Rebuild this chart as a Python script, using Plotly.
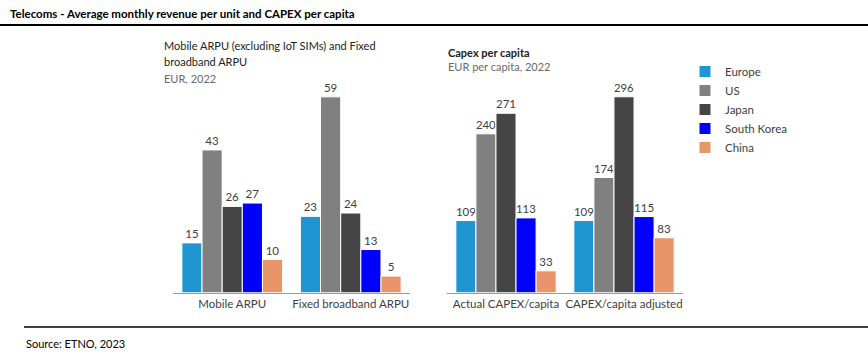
import plotly.graph_objects as go

W, H = 868, 356

series = ["Europe", "US", "Japan", "South Korea", "China"]
colors = ["#1F95D2", "#808080", "#454545", "#0000FF", "#E8956A"]

arpu_categories = ["Mobile ARPU", "Fixed broadband ARPU"]
arpu_values = {
    "Europe": [15, 23],
    "US": [43, 59],
    "Japan": [26, 24],
    "South Korea": [27, 13],
    "China": [10, 5],
}

capex_categories = ["Actual CAPEX/capita", "CAPEX/capita adjusted"]
capex_values = {
    "Europe": [109, 109],
    "US": [240, 174],
    "Japan": [271, 296],
    "South Korea": [113, 115],
    "China": [33, 83],
}

FONT = "Lato"
TXT = "#404040"

fig = go.Figure()
for s, c in zip(series, colors):
    fig.add_trace(go.Bar(
        x=arpu_categories, y=arpu_values[s], name=s, marker_color=c,
        marker_line_color="white", marker_line_width=1,
        text=arpu_values[s], textposition="outside", cliponaxis=False,
        textfont=dict(size=11.5, color=TXT, family=FONT),
        xaxis="x", yaxis="y", legendgroup=s, showlegend=False,
    ))
for s, c in zip(series, colors):
    fig.add_trace(go.Bar(
        x=capex_categories, y=capex_values[s], name=s, marker_color=c,
        marker_line_color="white", marker_line_width=1,
        text=capex_values[s], textposition="outside", cliponaxis=False,
        textfont=dict(size=11.5, color=TXT, family=FONT),
        xaxis="x2", yaxis="y2", legendgroup=s, showlegend=True,
    ))

base_y = 292.7
top_y = 90.0
ydom = [(H - base_y) / H, (H - top_y) / H]
plot_h = base_y - top_y

xax = dict(showline=True, linecolor="#9a9a9a", linewidth=1, ticks="",
           showgrid=False, zeroline=False,
           tickfont=dict(size=11.5, color=TXT, family=FONT))
yax = dict(visible=False, showgrid=False, zeroline=False)

fig.update_layout(
    width=W, height=H,
    margin=dict(l=0, r=0, t=0, b=0),
    paper_bgcolor="white", plot_bgcolor="white",
    barmode="group", bargap=0.15, bargroupgap=0,
    font=dict(family=FONT, size=11, color=TXT),
    xaxis=dict(domain=[173 / W, 410 / W], anchor="y", **xax),
    yaxis=dict(domain=ydom, range=[0, plot_h / 3.32], anchor="x", **yax),
    xaxis2=dict(domain=[447 / W, 683 / W], anchor="y2", **xax),
    yaxis2=dict(domain=ydom, range=[0, plot_h / 0.662], anchor="x2", **yax),
    legend=dict(x=685 / W, y=1 - 57 / H, xanchor="left", yanchor="top",
                font=dict(size=11.5, color=TXT, family=FONT),
                tracegroupgap=0, itemwidth=30, bgcolor="rgba(0,0,0,0)"),
    showlegend=True,
)

def ann(text, x, y, size=11, color=TXT, bold=False):
    fig.add_annotation(
        text=f"<b>{text}</b>" if bold else text, x=x / W, y=1 - y / H,
        xref="paper", yref="paper", xanchor="left", yanchor="middle",
        showarrow=False, font=dict(size=size, color=color, family=FONT),
    )

ann("Telecoms - Average monthly revenue per unit and CAPEX per capita", 8, 13, size=11.5, color="black", bold=True)
ann("Mobile ARPU (excluding IoT SIMs) and Fixed", 162, 46, size=11, color="#222222")
ann("broadband ARPU", 162, 62, size=11, color="#222222")
ann("EUR, 2022", 162, 78, size=11, color="#6a6a6a")
ann("<b>Capex per capita</b>", 446, 52, size=11, color="#222222")
ann("EUR per capita, 2022", 446, 67, size=11, color="#6a6a6a")
ann("Source: ETNO, 2023", 24, 343, size=11, color="black")

fig.add_shape(type="line", xref="paper", yref="paper", x0=0, x1=1,
              y0=1 - 25 / H, y1=1 - 25 / H, line=dict(color="black", width=2))
fig.add_shape(type="line", xref="paper", yref="paper", x0=24 / W, x1=1,
              y0=1 - 327 / H, y1=1 - 327 / H, line=dict(color="black", width=1.5))

fig.write_html("out.html", config={"displayModeBar": False},
               post_script="document.body.style.margin='0';document.body.style.overflow='hidden';")
